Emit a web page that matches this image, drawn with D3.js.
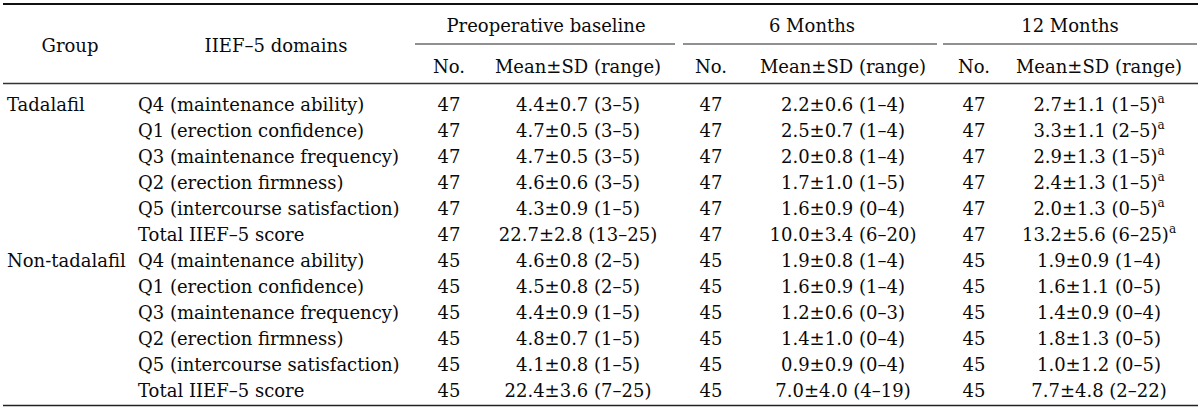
<!DOCTYPE html>
<html><head><meta charset="utf-8">
<script src="https://cdn.jsdelivr.net/npm/d3@7"></script>
<style>
html,body{margin:0;padding:0;background:#fff;}
svg text{font-family:"DejaVu Serif",serif;font-size:18px;fill:#0a0a0a;}
</style></head>
<body>
<svg id="t" width="1200" height="412"></svg>
<script>
// ---- data ----
const groups = ["Tadalafil", "Non-tadalafil"];
const domains = ["Q4 (maintenance ability)", "Q1 (erection confidence)", "Q3 (maintenance frequency)",
  "Q2 (erection firmness)", "Q5 (intercourse satisfaction)", "Total IIEF\u20135 score"];
const periods = ["Preoperative baseline", "6 Months", "12 Months"];
const nCounts = [47, 45];
// Tadalafil: rows = domains; Non-tadalafil follows
const preMean = [4.4, 4.7, 4.7, 4.6, 4.3, 22.7, 4.6, 4.5, 4.4, 4.8, 4.1, 22.4];
const preSD   = [0.7, 0.5, 0.5, 0.6, 0.9, 2.8, 0.8, 0.8, 0.9, 0.7, 0.8, 3.6];
const preMin  = [3, 3, 3, 3, 1, 13, 2, 2, 1, 1, 1, 7];
const preMax  = [5, 5, 5, 5, 5, 25, 5, 5, 5, 5, 5, 25];
const m6Mean  = [2.2, 2.5, 2.0, 1.7, 1.6, 10.0, 1.9, 1.6, 1.2, 1.4, 0.9, 7.0];
const m6SD    = [0.6, 0.7, 0.8, 1.0, 0.9, 3.4, 0.8, 0.9, 0.6, 1.0, 0.9, 4.0];
const m6Min   = [1, 1, 1, 1, 0, 6, 1, 1, 0, 0, 0, 4];
const m6Max   = [4, 4, 4, 5, 4, 20, 4, 4, 3, 4, 4, 19];
const m12Mean = [2.7, 3.3, 2.9, 2.4, 2.0, 13.2, 1.9, 1.6, 1.4, 1.8, 1.0, 7.7];
const m12SD   = [1.1, 1.1, 1.3, 1.3, 1.3, 5.6, 0.9, 1.1, 0.9, 1.3, 1.2, 4.8];
const m12Min  = [1, 2, 1, 1, 0, 6, 1, 0, 0, 0, 0, 2];
const m12Max  = [5, 5, 5, 5, 5, 25, 4, 5, 4, 5, 5, 22];
const m12Sig  = [1, 1, 1, 1, 1, 1, 0, 0, 0, 0, 0, 0];

// ---- layout ----
const svg = d3.select("#t");
const f1 = d3.format(".1f");
const nRows = groups.length * domains.length;
const y = d3.scaleLinear().domain([0, nRows - 1]).range([111, 397]);
const colNo = [449, 711, 974];
const colMean = [578, 843, 1099];
const spanC = [546, 812, 1070];
const spanL = [[415, 675], [683, 937], [943, 1197]];

function line(x1, x2, yy, w, c) {
  svg.append("line").attr("x1", x1).attr("x2", x2).attr("y1", yy).attr("y2", yy)
    .attr("stroke", c || "#111").attr("stroke-width", w);
}
line(3, 1198, 4, 2);
line(3, 1198, 83.5, 1.3, "#333");
line(3, 1198, 405.5, 1.3, "#222");
spanL.forEach(s => line(s[0], s[1], 44, 1, "#222"));

function txt(x, yy, s, anchor) {
  return svg.append("text").attr("x", x).attr("y", yy).attr("text-anchor", anchor || "middle").text(s);
}
txt(70, 52, "Group");
txt(276, 52, "IIEF\u20135 domains");
periods.forEach((p, i) => {
  txt(spanC[i], 32, p);
  txt(colNo[i], 73, "No.");
  txt(colMean[i], 73, "Mean\u00b1SD (range)");
});

const means = [preMean, m6Mean, m12Mean], sds = [preSD, m6SD, m12SD],
      mins = [preMin, m6Min, m12Min], maxs = [preMax, m6Max, m12Max];

d3.range(nRows).forEach(r => {
  const g = Math.floor(r / domains.length), d = r % domains.length;
  const yy = y(r);
  if (d === 0) txt(7, yy, groups[g], "start");
  txt(138, yy, domains[d], "start");
  for (let p = 0; p < 3; p++) {
    txt(colNo[p], yy, nCounts[g]);
    const t = txt(colMean[p], yy, f1(means[p][r]) + "\u00b1" + f1(sds[p][r]) + " (" + mins[p][r] + "\u2013" + maxs[p][r] + ")");
    if (p === 2 && m12Sig[r]) {
      t.append("tspan").attr("dy", -8).attr("font-size", "12px").text("a");
    }
  }
});
</script>
</body></html>
